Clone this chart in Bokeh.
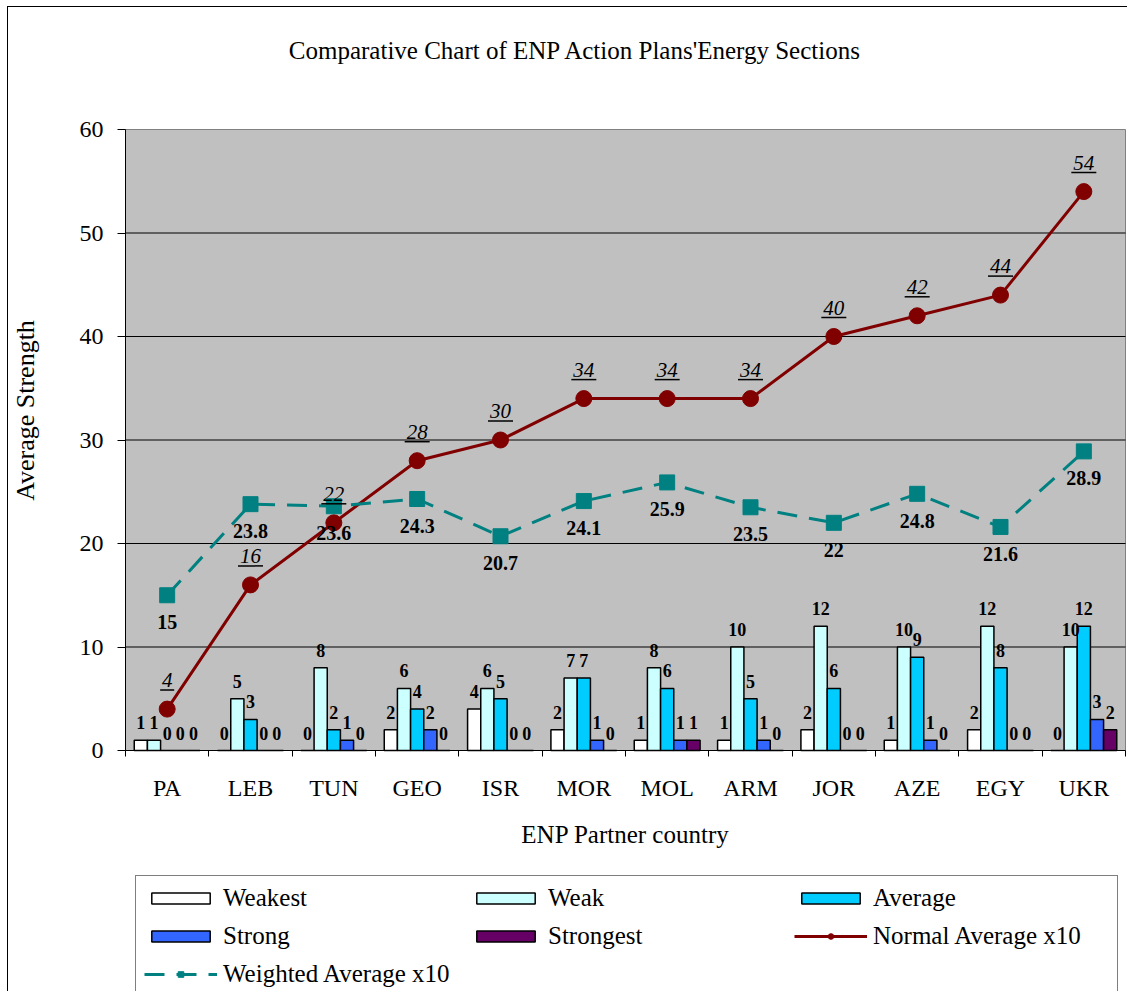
import math
from bokeh.plotting import figure
from bokeh.models import (ColumnDataSource, Range1d, LinearAxis, FixedTicker, Legend, LegendItem,
                          LabelSet, Label)
from bokeh.transform import dodge
from bokeh.embed import file_html
from bokeh.resources import INLINE

countries = ["PA", "LEB", "TUN", "GEO", "ISR", "MOR", "MOL", "ARM", "JOR", "AZE", "EGY", "UKR"]
weakest = [1, 0, 0, 2, 4, 2, 1, 1, 2, 1, 2, 0]
weak = [1, 5, 8, 6, 6, 7, 8, 10, 12, 10, 12, 10]
average = [0, 3, 2, 4, 5, 7, 6, 5, 6, 9, 8, 12]
strong = [0, 0, 1, 2, 0, 1, 1, 1, 0, 1, 0, 3]
strongest = [0, 0, 0, 0, 0, 0, 1, 0, 0, 0, 0, 2]
normal_avg_x10 = [4, 16, 22, 28, 30, 34, 34, 34, 40, 42, 44, 54]
weighted_avg_x10 = [15, 23.8, 23.6, 24.3, 20.7, 24.1, 25.9, 23.5, 22, 24.8, 21.6, 28.9]
y_ticks = [0, 10, 20, 30, 40, 50, 60]

FONT = "Liberation Serif"
W, H = 1127, 991
# plot-area placement on the canvas (pixels)
PA_LEFT, PA_RIGHT, PA_TOP, PA_BOTTOM = 125, 1125, 129, 750

series = [
    ("Weakest", weakest, "#FFFFFF"),
    ("Weak", weak, "#CCFFFF"),
    ("Average", average, "#00CCFF"),
    ("Strong", strong, "#3366FF"),
    ("Strongest", strongest, "#660066"),
]

def fmt(v):
    return str(int(v)) if float(v).is_integer() else str(v)

n = len(countries)
y_lo, y_hi = y_ticks[0], y_ticks[-1]
px_x = (PA_RIGHT - PA_LEFT) / n
px_y = (PA_BOTTOM - PA_TOP) / (y_hi - y_lo)

def dx(px):
    return (px - PA_LEFT) / px_x

def dy(py):
    return y_lo + (PA_BOTTOM - py) / px_y

# category slots: country i occupies [i, i+1] on the x scale, centred at i + 0.5
centers = [i + 0.5 for i in range(n)]
data = dict(x=centers, cat=countries, normal=normal_avg_x10, weighted=weighted_avg_x10,
            normal_lbl=[fmt(v) for v in normal_avg_x10],
            weighted_lbl=[fmt(v) for v in weighted_avg_x10])
for name, vals, _ in series:
    data[name] = vals
    data[name + "_lbl"] = [fmt(v) for v in vals]
# underline under the italic "normal average" labels (19 px above the point)
data["ul_y"] = [v + 19 / px_y for v in normal_avg_x10]
data["ul_w"] = [11 * len(fmt(v)) + 3 for v in normal_avg_x10]
src = ColumnDataSource(data)

outer_border = ("linear-gradient(#000,#000) 7px 6px / 1px 100% no-repeat, "
                "linear-gradient(#000,#000) 7px 6px / 100% 1px no-repeat, #fff")

p = figure(x_range=Range1d(dx(0), dx(W)), y_range=Range1d(dy(H), dy(0)),
           width=W, height=H, output_backend="svg", toolbar_location=None,
           x_axis_location=None, y_axis_location=None,
           min_border_left=0, min_border_right=0, min_border_top=0, min_border_bottom=0,
           background_fill_alpha=0, border_fill_alpha=0, outline_line_color=None,
           styles={"background": outer_border})
p.grid.visible = False

# plot area
p.quad(left=0, right=n, bottom=y_lo, top=y_hi, fill_color="#C0C0C0", line_color="#808080",
       line_width=1)
p.segment(x0=[0] * (len(y_ticks) - 2), x1=[n] * (len(y_ticks) - 2), y0=y_ticks[1:-1],
          y1=y_ticks[1:-1], line_color="black", line_width=1)

# y axis
ya = LinearAxis(fixed_location=0, bounds=(y_lo, y_hi), ticker=FixedTicker(ticks=y_ticks),
                axis_line_color="black", major_tick_line_color="black", major_tick_out=8,
                major_tick_in=0, minor_tick_line_color=None, major_label_text_font=FONT,
                major_label_text_font_size="24px", major_label_text_color="black",
                major_label_standoff=14)
p.add_layout(ya, "left")

# x axis: tick marks at category boundaries (Excel style) + country labels at centres
bounds = list(range(n + 1))
bnd_axis = LinearAxis(fixed_location=0, bounds=(0, n), ticker=FixedTicker(ticks=bounds),
                      major_label_overrides={b: "" for b in bounds},
                      major_label_text_font_size="1px", major_label_standoff=0,
                      major_tick_out=6, major_tick_in=0, minor_tick_line_color=None,
                      axis_line_color="black", major_tick_line_color="black")
p.add_layout(bnd_axis, "below")

cat_axis = LinearAxis(fixed_location=0, bounds=(0, n), ticker=FixedTicker(ticks=centers),
                      major_label_overrides={c: nm for c, nm in zip(centers, countries)},
                      axis_line_color=None, major_tick_line_color=None, minor_tick_line_color=None,
                      major_tick_out=6, major_tick_in=0,
                      major_label_text_font=FONT, major_label_text_font_size="24px",
                      major_label_text_color="black",
                      major_label_standoff=18, axis_label="ENP Partner country",
                      axis_label_text_font=FONT, axis_label_text_font_size="25px",
                      axis_label_text_color="black",
                      axis_label_text_font_style="normal", axis_label_standoff=17)
p.add_layout(cat_axis, "below")

p.add_layout(Label(x=dx(575), y=dy(50), text="Comparative Chart of ENP Action Plans'Energy Sections",
                   text_font=FONT, text_font_size="25px", text_align="center",
                   text_baseline="middle", text_color="black"))
p.add_layout(Label(x=dx(25), y=dy(410), text="Average Strength", angle=math.pi / 2,
                   text_font=FONT, text_font_size="26px", text_align="center",
                   text_baseline="middle", text_color="black"))

bw = 0.158
offsets = [-2 * bw, -bw, 0, bw, 2 * bw]
bar_renderers = []
for (name, vals, color), off in zip(series, offsets):
    r = p.vbar(x=dodge("x", off), top=name, width=bw, source=src,
               fill_color=color, line_color="black", line_width=1.5)
    bar_renderers.append(r)
    p.add_layout(LabelSet(x=dodge("x", off), y=name, text=name + "_lbl",
                          source=src, text_font=FONT, text_font_size="18px", text_font_style="bold",
                          text_align="center", text_baseline="alphabetic", y_offset=11,
                          text_color="black"))

nl = p.line("x", "normal", source=src, line_color="#800000", line_width=3)
nmk = p.scatter("x", "normal", source=src, marker="circle", size=16,
                fill_color="#800000", line_color="#800000")
wl = p.line("x", "weighted", source=src, line_color="#008080", line_width=3, line_dash="20 12")
wmk = p.scatter("x", "weighted", source=src, marker="square", size=15,
                fill_color="#008080", line_color="#008080")

p.add_layout(LabelSet(x="x", y="normal", text="normal_lbl", source=src, text_font=FONT,
                      text_font_size="21px", text_font_style="italic", text_align="center",
                      text_baseline="alphabetic", y_offset=22, text_color="black"))
p.rect(x="x", y="ul_y", width="ul_w", height=1.5, width_units="screen", height_units="screen",
       source=src, fill_color="black", line_color=None)
p.add_layout(LabelSet(x="x", y="weighted", text="weighted_lbl", source=src, text_font=FONT,
                      text_font_size="20px", text_font_style="bold", text_align="center",
                      text_baseline="top", y_offset=-20, text_color="black"))

items = [LegendItem(label=name, renderers=[r]) for (name, _, _), r in zip(series, bar_renderers)]
items.append(LegendItem(label="Normal Average x10", renderers=[nl, nmk]))
items.append(LegendItem(label="Weighted Average x10", renderers=[wl, wmk]))
legend = Legend(items=items, orientation="horizontal", ncols=3, location=(135, -6),
                glyph_width=73, glyph_height=14,
                label_standoff=6, label_width=236, spacing=10, padding=8, margin=0,
                label_text_font=FONT, label_text_font_size="25px", label_text_color="black",
                border_line_color="black", border_line_width=1, background_fill_color="white",
                background_fill_alpha=1)
p.add_layout(legend, "center")

open("out.html", "w").write(file_html(p, INLINE))
